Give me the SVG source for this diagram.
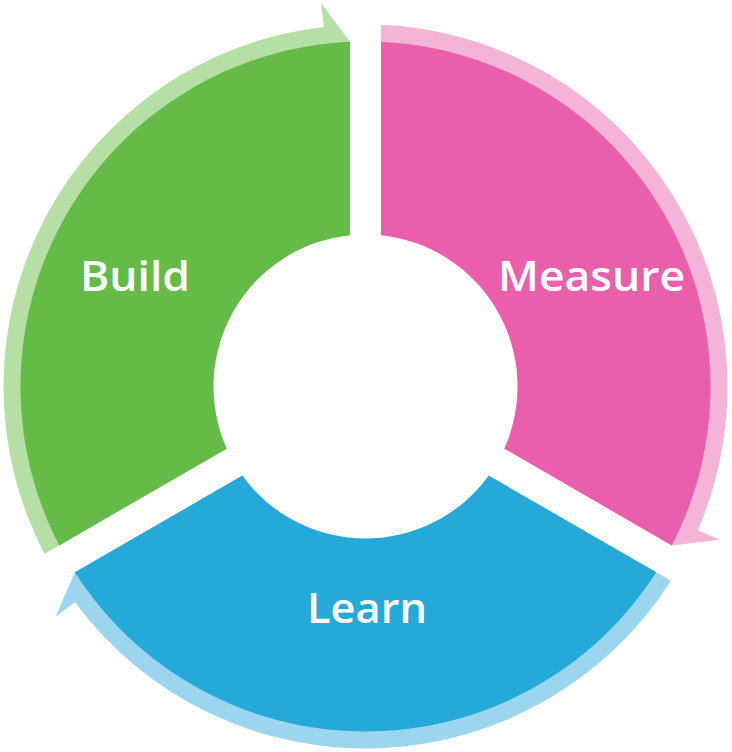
<svg xmlns="http://www.w3.org/2000/svg" width="732" height="752" viewBox="0 0 732 752">
<defs>
<style>
.lbl{font-family:"Open Sans","Noto Sans","Liberation Sans",sans-serif;font-weight:600;font-size:42px;fill:#ffffff;text-anchor:middle}
</style>
<path id="seg" d="M -15.5,-151.21 L -15.5,-344.65 A 345 345 0 0 0 -306.23,158.91 L -138.70,62.18 A 152 152 0 0 1 -15.5,-151.21 Z"/>
<path id="band" d="M -293.23,151.40 L -320.96,167.41 A 362 362 0 0 1 -41.61,-359.60 L -44.37,-383.44 L -15.5,-344.65 L -37.93,-327.81 A 330 330 0 0 0 -293.23,151.40 Z"/>
</defs>
<rect width="732" height="752" fill="#ffffff"/>
<g id="connectors" transform="translate(365.5,386.5)">
<use href="#band" fill="#b5dfa5"/>
<use href="#band" fill="#f4b4d7" transform="rotate(120)"/>
<use href="#band" fill="#9bd5ee" transform="rotate(240)"/>
</g>
<g id="build">
<use href="#seg" fill="#65bb47" transform="translate(365.5,386.5)"/>
<text class="lbl" x="135" y="291" textLength="110" lengthAdjust="spacingAndGlyphs">Build</text>
</g>
<g id="measure">
<use href="#seg" fill="#e95fab" transform="translate(365.5,386.5) rotate(120)"/>
<text class="lbl" x="591.5" y="291" textLength="187" lengthAdjust="spacingAndGlyphs">Measure</text>
</g>
<g id="learn">
<use href="#seg" fill="#25a9d9" transform="translate(365.5,386.5) rotate(240)"/>
<text class="lbl" x="367" y="623" textLength="120" lengthAdjust="spacingAndGlyphs">Learn</text>
</g>
</svg>
